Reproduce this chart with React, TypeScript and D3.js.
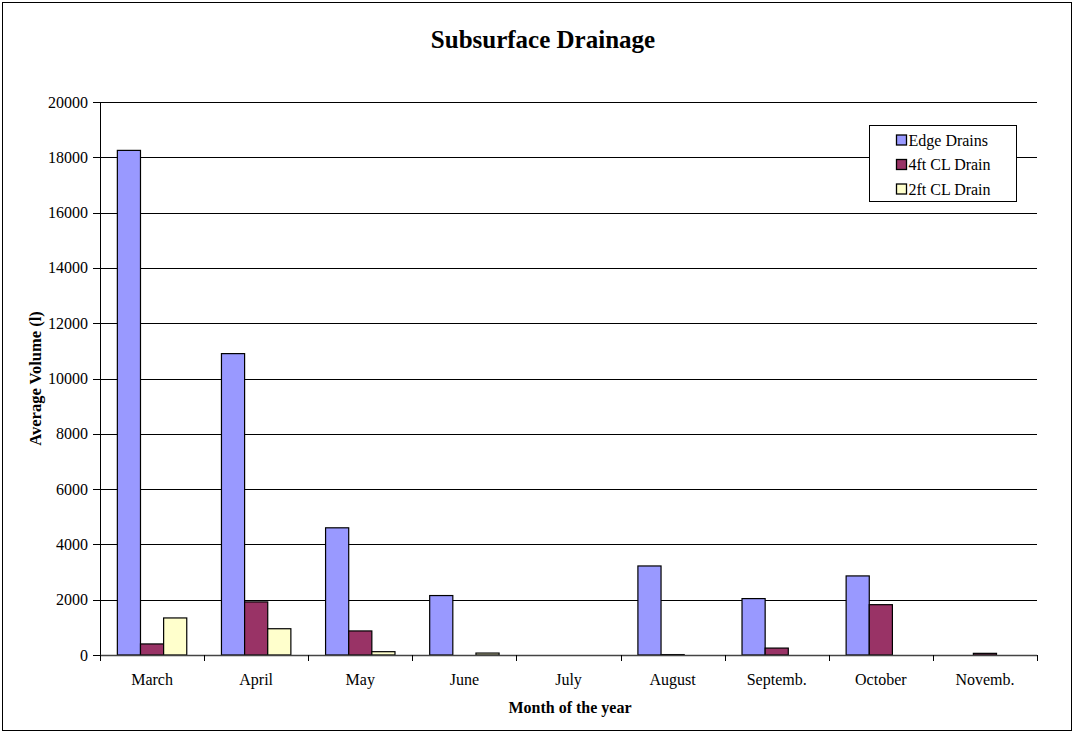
import * as d3 from "d3";

const months = ["March", "April", "May", "June", "July", "August", "Septemb.", "October", "Novemb."];
const seriesNames = ["Edge Drains", "4ft CL Drain", "2ft CL Drain"];
const edgeDrains = [18250, 10900, 4600, 2150, 0, 3220, 2040, 2860, 0];
const clDrain4ft = [400, 1920, 870, 0, 0, 15, 250, 1820, 60];
const clDrain2ft = [1340, 950, 120, 70, 0, 0, 0, 0, 0];
const yTicks = [0, 2000, 4000, 6000, 8000, 10000, 12000, 14000, 16000, 18000, 20000];
const colors = ["#9999FF", "#993366", "#FFFFCC"];

const W = 1074;
const H = 733;
const margin = { left: 100, right: 37, top: 102, bottom: 78 };

export default function App() {
  const series = [edgeDrains, clDrain4ft, clDrain2ft];
  const x = d3
    .scaleBand<string>()
    .domain(months)
    .range([margin.left, W - margin.right]);
  const barW = x.bandwidth() / 4.5;
  const inner = d3
    .scaleBand<number>()
    .domain([0, 1, 2])
    .range([barW * 0.75, barW * 3.75]);
  const y = d3
    .scaleLinear()
    .domain([0, 20000])
    .range([H - margin.bottom, margin.top]);
  const font = "'Liberation Serif', 'Times New Roman', serif";
  const y0 = y(0);

  return (
    <svg
      width={W}
      height={H}
      style={{ position: "absolute", left: 0, top: 0, fontFamily: font }}
    >
      <rect x={2.5} y={2.5} width={W - 5} height={H - 5} fill="white" stroke="black" strokeWidth={1} />
      <text x={543} y={48} textAnchor="middle" fontSize={25} fontWeight="bold">
        Subsurface Drainage
      </text>

      {/* gridlines and y ticks */}
      {yTicks.map((t) => (
        <g key={t}>
          {t > 0 && (
            <line
              x1={margin.left}
              x2={W - margin.right}
              y1={Math.round(y(t)) + 0.5}
              y2={Math.round(y(t)) + 0.5}
              stroke="black"
              strokeWidth={1}
            />
          )}
          <line
            x1={margin.left - 7}
            x2={margin.left}
            y1={Math.round(y(t)) + 0.5}
            y2={Math.round(y(t)) + 0.5}
            stroke="black"
          />
          <text x={margin.left - 12} y={y(t) + 5.5} textAnchor="end" fontSize={16}>
            {t}
          </text>
        </g>
      ))}

      {/* bars */}
      {series.map((vals, si) =>
        vals.map((v, i) =>
          v > 0 ? (
            <rect
              key={`${si}-${i}`}
              x={(x(months[i]) ?? 0) + (inner(si) ?? 0)}
              y={y(v)}
              width={inner.bandwidth()}
              height={y0 - y(v)}
              fill={colors[si]}
              stroke="black"
              strokeWidth={1.2}
            />
          ) : null
        )
      )}

      {/* axes */}
      <line x1={margin.left + 0.5} x2={margin.left + 0.5} y1={margin.top} y2={y0} stroke="black" />
      <line x1={margin.left} x2={W - margin.right} y1={y0 + 0.5} y2={y0 + 0.5} stroke="#444" strokeWidth={1.5} />
      {months.map((m, i) => (
        <g key={m}>
          <line
            x1={Math.round(x(m) ?? 0) + 0.5}
            x2={Math.round(x(m) ?? 0) + 0.5}
            y1={y0}
            y2={y0 + 6}
            stroke="black"
          />
          {i === months.length - 1 && (
            <line
              x1={W - margin.right + 0.5}
              x2={W - margin.right + 0.5}
              y1={y0}
              y2={y0 + 6}
              stroke="black"
            />
          )}
          <text x={(x(m) ?? 0) + x.bandwidth() / 2} y={y0 + 30} textAnchor="middle" fontSize={16}>
            {m}
          </text>
        </g>
      ))}

      <text x={570} y={713} textAnchor="middle" fontSize={16} fontWeight="bold">
        Month of the year
      </text>
      <text
        transform={`translate(41, ${(margin.top + y0) / 2}) rotate(-90)`}
        textAnchor="middle"
        fontSize={16.5}
        fontWeight="bold"
      >
        Average Volume (l)
      </text>

      {/* legend */}
      <g transform="translate(869.5, 125.5)">
        <rect width={147} height={76} fill="white" stroke="black" />
        {seriesNames.map((n, i) => (
          <g key={n} transform={`translate(27, ${9.5 + i * 24.5})`}>
            <rect width={10} height={10} fill={colors[i]} stroke="black" strokeWidth={1.3} />
            <text x={12} y={10.5} fontSize={16}>
              {n}
            </text>
          </g>
        ))}
      </g>
    </svg>
  );
}
